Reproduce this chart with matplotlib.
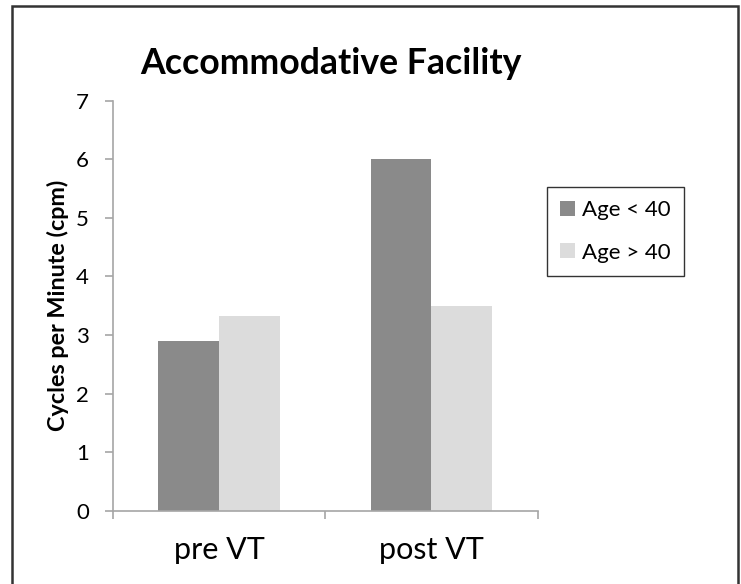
import matplotlib
matplotlib.use("Agg")
import matplotlib.pyplot as plt
from matplotlib.patches import Rectangle, Patch
import numpy as np

categories = ["pre VT", "post VT"]
series_names = ["Age < 40", "Age > 40"]
age_under_40 = [2.9, 6.0]
age_over_40 = [3.33, 3.5]
y_ticks = [0, 1, 2, 3, 4, 5, 6, 7]

colors = ["#8a8a8a", "#dcdcdc"]
FONT = "Lato"
W, H = 741, 584
fig = plt.figure(figsize=(W / 100, H / 100), dpi=100)

# axes placement in pixel terms
x0, x1 = 112.7, 537.7
y_top, y_bot = 100.7, 510.7
ax = fig.add_axes([x0 / W, 1 - y_bot / H, (x1 - x0) / W, (y_bot - y_top) / H])

x = np.arange(len(categories))
bw = 1 / 3.5
ax.bar(x - bw / 2, age_under_40, bw, color=colors[0], label=series_names[0])
ax.bar(x + bw / 2, age_over_40, bw, color=colors[1], label=series_names[1])

ax.set_xlim(-0.5, len(categories) - 0.5)
ax.set_ylim(0, 7)
ax.set_yticks(y_ticks)
ax.set_yticklabels([str(t) for t in y_ticks], fontsize=16, family=FONT)
ax.set_xticks(x)
ax.set_xticklabels(categories, fontsize=22, family=FONT)
ax.set_xticks(np.arange(-0.5, len(categories), 1), minor=True)

spine_c = "#a6a6a6"
for s in ["top", "right"]:
    ax.spines[s].set_visible(False)
for s in ["left", "bottom"]:
    ax.spines[s].set_color(spine_c)
    ax.spines[s].set_linewidth(1.2)
ax.tick_params(axis="y", direction="out", length=6, width=1.2, color=spine_c, pad=11)
ax.tick_params(axis="x", which="major", length=0, pad=18)
ax.tick_params(axis="x", which="minor", direction="out", length=6, width=1.2, color=spine_c)

ax.set_ylabel("Cycles per Minute (cpm)", fontsize=16.8, fontweight="bold", family=FONT, labelpad=5)

fig.text(331 / W, 1 - 74.3 / H, "Accommodative Facility", fontsize=25.7, fontweight="bold",
         family=FONT, ha="center", va="baseline")

handles = [Patch(facecolor=colors[0]), Patch(facecolor=colors[1])]
leg = fig.legend(handles, series_names, loc="upper left",
                 bbox_to_anchor=(547 / W, 1 - 187 / H), frameon=True, fancybox=False,
                 prop={"family": FONT, "size": 16}, handlelength=0.68, handleheight=0.68,
                 labelspacing=1.0, borderpad=0.6, handletextpad=0.3, borderaxespad=0)
leg.get_frame().set_edgecolor("black")
leg.get_frame().set_linewidth(1.0)

# outer chart frame
fig.add_artist(Rectangle((12 / W, -0.05), (738 - 12) / W, 1 - 6 / H + 0.05,
                         transform=fig.transFigure, fill=False, edgecolor="#333333",
                         linewidth=1.8, clip_on=False))

fig.savefig("out.png", dpi=100)
